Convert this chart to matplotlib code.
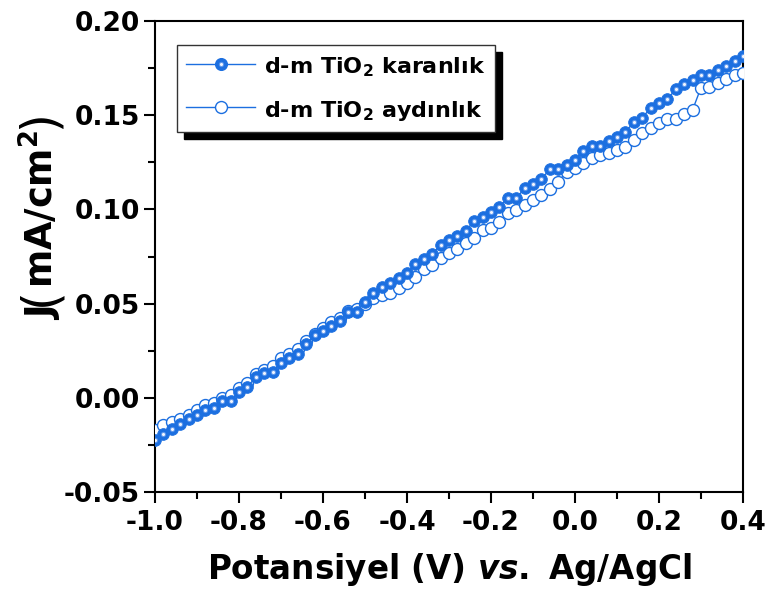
import numpy as np
import matplotlib
matplotlib.use("Agg")
import matplotlib.pyplot as plt
from matplotlib.lines import Line2D
from matplotlib.ticker import MultipleLocator, FormatStrFormatter

plt.rcParams['font.family'] = ['DejaVu Sans']
plt.rcParams['font.weight'] = 'bold'
plt.rcParams['mathtext.fontset'] = 'custom'
plt.rcParams['mathtext.it'] = 'DejaVu Sans:italic'
plt.rcParams['mathtext.default'] = 'regular'

# Potential sweep (V vs. Ag/AgCl)
potential = np.round(np.arange(-1.0, 0.401, 0.02), 2)

# Current density, dark (mA/cm^2)
j_dark = [
    -0.0225, -0.0192, -0.0167, -0.0141, -0.0114, -0.0091, -0.0065, -0.0056,
    -0.0015, -0.0017, 0.0032, 0.0059, 0.0109, 0.0133, 0.0139, 0.0186,
    0.0210, 0.0233, 0.0284, 0.0333, 0.0356, 0.0383, 0.0408, 0.0457,
    0.0457, 0.0510, 0.0558, 0.0587, 0.0611, 0.0636, 0.0661, 0.0710,
    0.0735, 0.0762, 0.0811, 0.0838, 0.0859, 0.0887, 0.0938, 0.0961,
    0.0988, 0.1011, 0.1062, 0.1059, 0.1112, 0.1135, 0.1161, 0.1213,
    0.1213, 0.1236, 0.1262, 0.1310, 0.1337, 0.1337, 0.1365, 0.1386,
    0.1412, 0.1462, 0.1487, 0.1537, 0.1563, 0.1586, 0.1637, 0.1664,
    0.1687, 0.1713, 0.1713, 0.1740, 0.1763, 0.1788, 0.1814,
]

# Current density, illuminated (mA/cm^2)
j_light = [
    -0.0170, -0.0145, -0.0130, -0.0115, -0.0090, -0.0065, -0.0040, -0.0030,
    0.0000, 0.0015, 0.0050, 0.0080, 0.0125, 0.0145, 0.0170, 0.0210,
    0.0235, 0.0260, 0.0300, 0.0340, 0.0370, 0.0400, 0.0425, 0.0460,
    0.0470, 0.0500, 0.0530, 0.0546, 0.0555, 0.0581, 0.0610, 0.0643,
    0.0682, 0.0705, 0.0740, 0.0767, 0.0788, 0.0820, 0.0847, 0.0891,
    0.0900, 0.0935, 0.0979, 0.0997, 0.1023, 0.1050, 0.1076, 0.1110,
    0.1147, 0.1200, 0.1220, 0.1248, 0.1271, 0.1289, 0.1298, 0.1315,
    0.1333, 0.1368, 0.1404, 0.1430, 0.1457, 0.1480, 0.1480, 0.1506,
    0.1528, 0.1646, 0.1651, 0.1669, 0.1691, 0.1713, 0.1722,
]

labels = ['d-m TiO$_2$ karanlık', 'd-m TiO$_2$ aydınlık']
blue = '#1c6fe0'
mid = '#5f98ec'
spot = '#f2f6ff'

fig = plt.figure(figsize=(7.68, 6.02), dpi=100)
ax = fig.add_axes([0.2018, 0.1827, 0.7656, 0.7824])

# illuminated: open circles
ax.plot(potential, j_light, '-', color=blue, lw=1.0, marker='o', ms=8.6,
        mfc='white', mec=blue, mew=1.0, zorder=3)

# dark: shaded filled circles
ax.plot(potential, j_dark, '-', color=blue, lw=1.0, marker='o', ms=8.4,
        mfc=blue, mec=blue, mew=0.6, zorder=4)
ax.plot(potential, j_dark, ls='none', marker='o', ms=3.8,
        mfc=mid, mec='none', zorder=5)
ax.plot(potential, j_dark, ls='none', marker='o', ms=2.2,
        mfc=spot, mec='none', zorder=6)

ax.set_xlim(-1.0, 0.4)
ax.set_ylim(-0.05, 0.20)
ax.xaxis.set_major_locator(MultipleLocator(0.2))
ax.xaxis.set_minor_locator(MultipleLocator(0.1))
ax.yaxis.set_major_locator(MultipleLocator(0.05))
ax.yaxis.set_minor_locator(MultipleLocator(0.025))
ax.xaxis.set_major_formatter(FormatStrFormatter('%.1f'))
ax.yaxis.set_major_formatter(FormatStrFormatter('%.2f'))

for s in ax.spines.values():
    s.set_linewidth(1.5)
ax.tick_params(which='major', direction='out', length=8, width=1.5,
               labelsize=19, pad=3)
ax.tick_params(axis='x', which='major', pad=5)
ax.tick_params(which='minor', direction='out', length=5, width=1.5)
for t in ax.get_xticklabels() + ax.get_yticklabels():
    t.set_fontweight('bold')

ax.set_xlabel('Potansiyel (V) $\\mathit{vs.}$ Ag/AgCl', fontsize=23.5,
              fontweight='bold', labelpad=11)

# y-axis title, built piece by piece so the brackets can be light and tall
ylab_parts = [('J', 26.5, 'bold'), ('(', 35, 'light'),
              ('mA/cm$^2$', 26.5, 'bold'), (')', 35, 'light')]
base_x = 54   # baseline, figure pixels from the left
prev = None
for txt, size, weight in ylab_parts:
    w = 'normal' if weight == 'light' else 'bold'
    if prev is None:
        prev = fig.text(base_x / 768, 282 / 602, txt, rotation=90,
                        rotation_mode='anchor', ha='left', va='baseline',
                        fontsize=size, fontweight=w)
    else:
        prev = ax.annotate(txt, xy=(base_x, 1.0),
                           xycoords=('figure pixels', prev),
                           rotation=90, rotation_mode='anchor',
                           ha='left', va='baseline', fontsize=size,
                           fontweight=w, annotation_clip=False)

# legend entries
h_dark = (Line2D([], [], color=blue, lw=1.0, marker='o', ms=8.4, mfc=blue, mec=blue),
          Line2D([], [], ls='none', marker='o', ms=3.8, mfc=mid, mec='none'),
          Line2D([], [], ls='none', marker='o', ms=2.2, mfc=spot, mec='none'))
h_light = Line2D([], [], color=blue, lw=1.0, marker='o', ms=8.6, mfc='white',
                 mec=blue, mew=1.0)
leg = ax.legend([h_dark, h_light], labels, loc='upper left',
                bbox_to_anchor=(0.0374, 0.949), borderaxespad=0,
                prop={'weight': 'bold', 'size': 16}, frameon=True,
                fancybox=False, edgecolor='#333333', framealpha=1,
                handlelength=3.1, handleheight=1.2, handletextpad=0.4,
                borderpad=0.42, labelspacing=0.85,
                shadow={'ox': 5, 'oy': -5, 'color': 'black', 'alpha': 1})
leg.get_frame().set_linewidth(1.0)

fig.savefig('out.png', dpi=100)
